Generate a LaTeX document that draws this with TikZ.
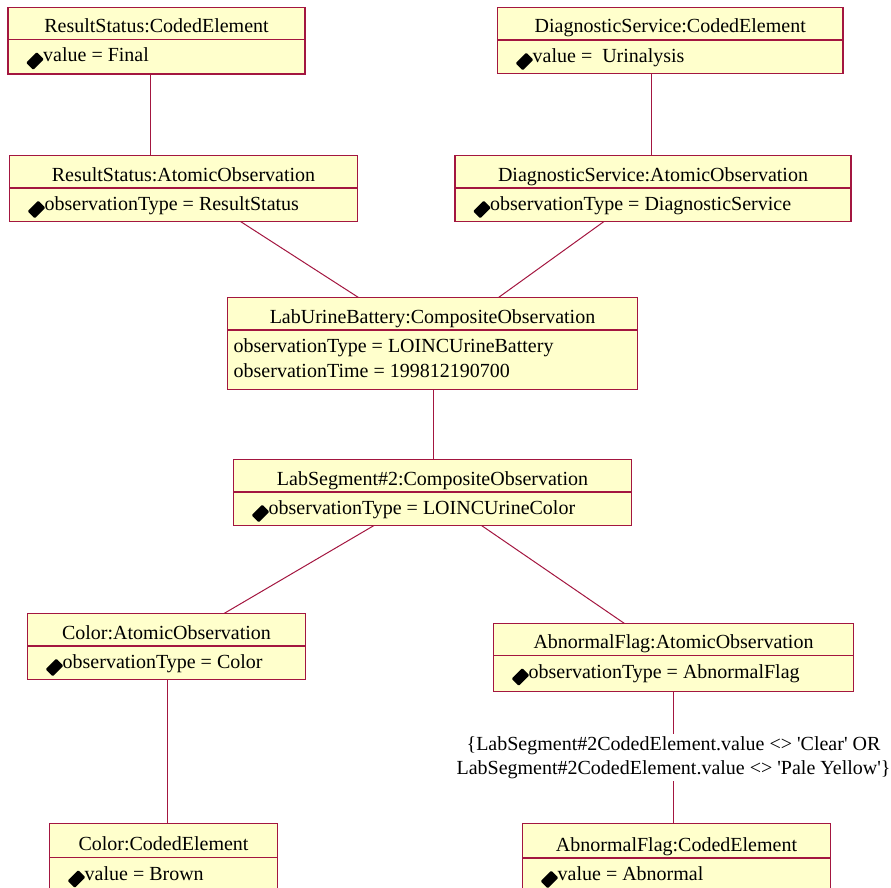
\documentclass[tikz,border=0pt]{standalone}
\usepackage{fontspec}
\setmainfont{Liberation Serif}
\usetikzlibrary{fit}

\definecolor{umlborder}{RGB}{163,22,64}
\definecolor{umlfill}{RGB}{255,255,204}

\tikzset{
  objpart/.style={draw=umlborder, fill=umlfill, line width=1.5pt, inner sep=0pt, outer sep=0pt},
  conn/.style={draw=umlborder, line width=1pt},
  umlfont/.style={font=\fontsize{20pt}{24pt}\selectfont},
  titletext/.style={umlfont, anchor=base, inner sep=0pt},
  attrtext/.style={umlfont, anchor=base west, inner sep=0pt},
  constraint/.style={umlfont, align=center, fill=white, inner sep=2pt},
  vis/.style={fill=black, minimum width=15pt, minimum height=10pt, inner sep=0pt,
              rotate=45, rounded corners=1pt},
}

% object box: name, left, top, right, divider, bottom, title
\newcommand\objbox[7]{%
  \node[objpart, fit={(#2,#3) (#4,#5)}] (#1) {};
  \node[objpart, fit={(#2,#5) (#4,#6)}] (#1-a) {};
  \node[titletext] (#1-t) at ([yshift=7pt]#1.south) {#7};
}
% attribute with visibility marker
\newcommand\objattr[2]{%
  \node[vis] (#1-d) at ([xshift=27pt,yshift=-21.5pt]#1-a.north west) {};
  \node[attrtext] (#1-v) at ([xshift=35pt,yshift=-22.5pt]#1-a.north west) {#2};
}

\begin{document}
\begin{tikzpicture}[x=1pt, y=-1pt]
  \useasboundingbox (0,0) rectangle (891,888);
  \clip (0,0) rectangle (891,888);

  % boxes
  \objbox{rsc}{8}{7.5}{305}{39.5}{74}{ResultStatus:CodedElement}
  \objattr{rsc}{value = Final}

  \objbox{dsc}{497.5}{7.5}{843}{40}{73.5}{DiagnosticService:CodedElement}
  \objattr{dsc}{value = \ Urinalysis}

  \objbox{rsa}{9.5}{155.5}{357.5}{188}{221.5}{ResultStatus:AtomicObservation}
  \objattr{rsa}{observationType = ResultStatus}

  \objbox{dsa}{455}{155.5}{851}{188}{221.5}{DiagnosticService:AtomicObservation}
  \objattr{dsa}{observationType = DiagnosticService}

  \objbox{lub}{227.5}{297.5}{637.5}{330}{389.5}{LabUrineBattery:CompositeObservation}
  \node[attrtext] (lub-v1) at ([xshift=6pt,yshift=-22.3pt]lub-a.north west) {observationType = LOINCUrineBattery};
  \node[attrtext] (lub-v2) at ([xshift=6pt,yshift=-47.7pt]lub-a.north west) {observationTime = 199812190700};

  \objbox{lsg}{233.5}{459.5}{631.5}{492}{525.5}{LabSegment\#2:CompositeObservation}
  \objattr{lsg}{observationType = LOINCUrineColor}

  \objbox{cla}{27.5}{613.5}{305.5}{646}{679.5}{Color:AtomicObservation}
  \objattr{cla}{observationType = Color}

  \objbox{clc}{49.5}{823.5}{277.5}{857.5}{900}{Color:CodedElement}
  \objattr{clc}{value = Brown}

  \objbox{afa}{493.5}{623.5}{853.5}{655.5}{691.5}{AbnormalFlag:AtomicObservation}
  \objattr{afa}{observationType = AbnormalFlag}

  \objbox{afc}{522.5}{823.5}{830.5}{858}{900}{AbnormalFlag:CodedElement}
  \objattr{afc}{value = Abnormal}

  % links between objects
  \draw[conn] (rsc-a.south -| 150,0) -- (rsa.north -| 150,0);
  \draw[conn] (dsc-a.south -| 651.5,0) -- (dsa.north -| 651.5,0);
  \draw[conn] (rsa-a.south -| 240.5,0) -- (lub.north -| 358.5,0);
  \draw[conn] (dsa-a.south -| 604,0) -- (lub.north -| 498.5,0);
  \draw[conn] (lub-a.south -| 433.5,0) -- (lsg.north -| 433.5,0);
  \draw[conn] (lsg-a.south -| 374,0) -- (cla.north -| 224,0);
  \draw[conn] (lsg-a.south -| 481.5,0) -- (afa.north -| 624.5,0);
  \draw[conn] (cla-a.south -| 167.5,0) -- (clc.north -| 167.5,0);
  \draw[conn] (afa-a.south -| 673.5,0) --
    node[constraint] (cons) {\{LabSegment\#2CodedElement.value <> \textquotesingle Clear\textquotesingle{} OR\\
      LabSegment\#2CodedElement.value <> \textquotesingle Pale Yellow\textquotesingle\}}
    (afc.north -| 673.5,0);
\end{tikzpicture}
\end{document}
